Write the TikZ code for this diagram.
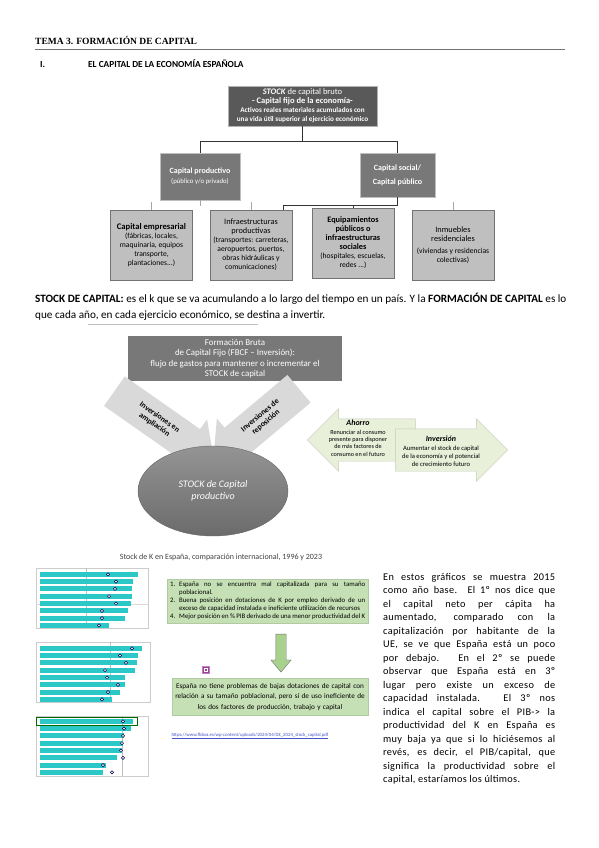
\documentclass[tikz,border=0pt]{standalone}
\usepackage{fontspec}
\setmainfont{Carlito}
\newfontfamily\titlefont{Liberation Serif}
\usepackage{tikz}
\usetikzlibrary{shapes.geometric,shapes.arrows,positioning,calc}
\definecolor{boxdark}{RGB}{89,89,89}
\definecolor{boxmid}{RGB}{120,120,120}
\definecolor{boxlight}{RGB}{191,191,191}
\definecolor{arrowgray}{RGB}{217,217,217}
\definecolor{palegreen}{RGB}{232,240,218}
\definecolor{notegreen}{RGB}{197,224,180}
\definecolor{downgreen}{RGB}{169,209,142}
\definecolor{barteal}{RGB}{44,200,200}
\definecolor{linkblue}{RGB}{68,84,196}

\begin{document}
\begin{tikzpicture}[x=1pt,y=-1pt,
  dk/.style={draw=gray!60,fill=boxdark,text=white,align=center,inner sep=0pt},
  md/.style={draw=gray!50,fill=boxmid,text=white,align=center,inner sep=1pt,font=\fontsize{8}{10}\selectfont\bfseries},
  lt/.style={draw=black!55,fill=boxlight,align=center,inner sep=0pt,minimum width=82pt,minimum height=70pt,font=\fontsize{7.6}{9}\selectfont},
  conn/.style={draw=black!80,line width=0.8pt},
  stub/.style={draw=black!35,line width=0.6pt},
  grayarrow/.style={single arrow,fill=arrowgray,single arrow head extend=12pt,inner ysep=10pt,font=\fontsize{7.8}{9}\selectfont\bfseries,align=center},
  greenarrow/.style={single arrow,fill=palegreen,draw=palegreen!85!black,single arrow head extend=10pt,inner sep=0pt,inner ysep=21pt},
  note/.style={fill=notegreen,draw=notegreen!90!black,inner sep=3pt},
  barfill/.style={fill=barteal},
  bardot/.style={draw=black!70!blue,fill=white,line width=0.5pt}]
\useasboundingbox (0,0) rectangle (599,848);
\fill[white] (0,0) rectangle (599,848);
% encabezado
\node[anchor=base west,inner sep=0pt,font={\titlefont\fontsize{9.5}{12}\selectfont\bfseries}] (tema) at (35,45) {TEMA 3. FORMACIÓN DE CAPITAL};
\draw[black!55,line width=1pt] ($(tema.base west)+(0,5)$) -- ++(530,0);
\node[anchor=base west,inner sep=0pt,font=\fontsize{9.3}{11}\selectfont\bfseries] (num) at (40,68) {I.};
\node[anchor=base west,inner sep=0pt,font=\fontsize{9.3}{11}\selectfont\bfseries] (secc) at (88,68) {EL CAPITAL DE LA ECONOMÍA ESPAÑOLA};

% arbol del stock de capital
\node[dk,minimum width=149pt,minimum height=40pt,font=\fontsize{7.2}{9}\selectfont\bfseries] (bruto) at (302.5,106) {{\fontsize{8.5}{9}\selectfont\textit{STOCK} \mdseries de capital bruto}\\{\fontsize{8.5}{9}\selectfont - Capital fijo de la economía-}\\Activos reales materiales acumulados con\\una vida útil superior al ejercicio económico};
\node[md,minimum width=80pt,minimum height=47pt] (prod) at (200,176.5) {Capital productivo\\{\fontsize{6.8}{9}\selectfont\mdseries (público y/o privado)}};
\node[md,minimum width=75pt,minimum height=44pt,font=\fontsize{8}{14}\selectfont\bfseries] (soc) at (397.5,175) {Capital social/\\Capital público};
\draw[conn] (bruto.south) -- ++(0,15) coordinate (split);
\draw[conn] (split) -| (prod.north);
\draw[conn] (split) -| (soc.north);

\node[lt] (empres) at (151.5,245) {{\fontsize{8.6}{10}\selectfont\bfseries Capital empresarial}\\(fábricas, locales,\\maquinaria, equipos\\transporte,\\plantaciones...)};
\node[lt] (infra) at (251,245) {{\fontsize{8.3}{9}\selectfont Infraestructuras}\\{\fontsize{8.3}{9}\selectfont productivas}\\(transportes: carreteras,\\aeropuertos, puertos,\\obras hidráulicas y\\comunicaciones)};
\node[lt] (equip) at (353,243) {{\fontsize{8.3}{9}\selectfont\bfseries Equipamientos}\\{\fontsize{8.3}{9}\selectfont\bfseries públicos o}\\{\fontsize{8.3}{9}\selectfont\bfseries infraestructuras}\\{\fontsize{8.3}{9}\selectfont\bfseries sociales}\\(hospitales, escuelas,\\redes ...)};
\node[lt] (inmue) at (453,245) {{\fontsize{8.3}{9}\selectfont Inmuebles}\\{\fontsize{8.3}{9}\selectfont residenciales}\\[3pt](viviendas y residencias\\colectivas)};

\draw[stub] (prod.south) -- ++(0,6) coordinate (prodend);
\draw[conn] (soc.south) -- ++(0,8) coordinate (socsplit) -| ([xshift=-9pt]infra.north east);
\draw[conn] (socsplit -| equip.north) -- (equip.north);
\draw[stub] ($(empres.north)+(0,-8)$) coordinate (empresend) -- (empres.north);
\draw[stub] ($(infra.north)+(0,-8)$) coordinate (infraend) -- (infra.north);
\draw[stub] ($(inmue.north)+(0,-8)$) coordinate (inmueend) -- (inmue.north);

% definicion
\node[anchor=north west,inner sep=0pt,align=left,font=\fontsize{11.2}{16}\selectfont] (defstock) at (35,293) {\textbf{STOCK DE CAPITAL:} es el k que se va acumulando a lo largo del tiempo en un país. Y la \textbf{FORMACIÓN DE CAPITAL} es lo\\que cada año, en cada ejercicio económico, se destina a invertir.};
\draw[black!25,line width=0.6pt] (88,324) -- (258,324);

% formacion bruta de capital fijo
\node[md,draw=none,minimum width=214pt,minimum height=45pt,font=\fontsize{8.9}{10.4}\selectfont] (fbcf) at (235,358.5) {Formación Bruta\\de Capital Fijo (FBCF – Inversión):\\flujo de gastos para mantener o incrementar el\\STOCK de capital};
\node[grayarrow,minimum height=122pt,rotate=-35] (ampl) at (157,421) {Inversiones en\\ampliación};
\node[grayarrow,minimum height=112pt,rotate=40,shape border rotate=180] (repos) at (263,419) {Inversiones de\\reposición};
\node[ellipse,draw=black!60,top color=black!42,bottom color=black!58,minimum width=150pt,minimum height=90pt,text=white,font=\fontsize{10}{12}\selectfont\itshape,align=center] (stockprod) at (213,491) {STOCK de Capital\\productivo};

% ahorro e inversion
\node[greenarrow,minimum height=108pt,shape border rotate=180] (ahorro) at (372,440) {};
\node[greenarrow,minimum height=112pt] (inver) at (441,450) {};
\node[align=center,inner sep=0pt,font=\fontsize{6.2}{7.2}\selectfont] (ahorrotxt) at (358,438) {{\fontsize{8}{9}\selectfont\bfseries\itshape Ahorro}\\[2pt]Renunciar al consumo\\presente para disponer\\de más factores de\\consumo en el futuro};
\node[align=center,inner sep=0pt,font=\fontsize{6.6}{7.6}\selectfont] (invertxt) at (441,451) {{\fontsize{8}{9}\selectfont\bfseries\itshape Inversión}\\[2pt]Aumentar el stock de capital\\de la economía y el potencial\\de crecimiento futuro};

% graficos del stock de K
\node[anchor=base,font=\fontsize{8}{9}\selectfont,text=black!75] (captk) at (221,559) {Stock de K en España, comparación internacional, 1996 y 2023};
\draw[black!20] (36,568) rectangle (148,628);
\draw[black!25] (86,568) -- (86,628);
\draw[black!15] (36,604) -- (148,604);
\foreach \e/\m [count=\i] in {138/108,133/116,132/115,132/109,131/116,128/102,125/102,109/99}
  {\fill[barfill] (40,{564.5+7.3*\i}) rectangle (\e,{569.5+7.3*\i});
   \draw[bardot] (\m,{567+7.3*\i}) circle (1.6pt);}
\draw[black!20] (36,642) rectangle (150,702);
\draw[black!25] (110,642) -- (110,702);
\foreach \e/\m [count=\i] in {142/132,138/120,137/126,135/105,125/107,125/118,120/108,112/102}
  {\fill[barfill] (40,{638.5+7.3*\i}) rectangle (\e,{643.5+7.3*\i});
   \draw[bardot] (\m,{641+7.3*\i}) circle (1.6pt);}
\draw[black!20] (36,716) rectangle (148,776);
\draw[black!25] (122,716) -- (122,776);
\draw[black!60!green,line width=0.6pt] (36,717) rectangle (137,725);
\foreach \e/\m [count=\i] in {133/123,131/124,124/123,123/122,122/121,117/123,106/103,103/112}
  {\fill[barfill] (40,{711.5+7.3*\i}) rectangle (\e,{716.5+7.3*\i});
   \draw[bardot] (\m,{714+7.3*\i}) circle (1.6pt);}

% conclusiones
\node[note,anchor=north west,text width=195pt,align=justify,font=\fontsize{6.8}{8}\selectfont] (conclus) at (167,579) {%
{\hangindent=9pt\hangafter=1\noindent\makebox[9pt][l]{1.}España no se encuentra mal capitalizada para su tamaño\linebreak poblacional.\par}
{\hangindent=9pt\hangafter=1\noindent\makebox[9pt][l]{2.}Buena posición en dotaciones de K por empleo derivado de un\linebreak exceso de capacidad instalada e ineficiente utilización de recursos\par}
{\hangindent=9pt\hangafter=1\noindent\makebox[9pt][l]{4.}Mejor posición en \% PIB derivado de una menor productividad del K\par}};
\node[single arrow,rotate=-90,fill=downgreen,draw=black!55,minimum height=38pt,inner sep=0pt,inner ysep=5pt,single arrow head extend=5pt,single arrow tip angle=80] (flecha) at (281,650) {};
\node[fill=violet!75,draw=violet!50,minimum size=7pt,inner sep=0pt] (nota) at (206,670) {};
\node[draw=white,line width=0.5pt,minimum size=3pt,inner sep=0pt] (notain) at (nota) {};
\node[note,text width=190pt,align=center,inner ysep=5pt,font=\fontsize{7.2}{10.5}\selectfont] (resumen) at (270,697) {España no tiene problemas de bajas dotaciones de capital con\\relación a su tamaño poblacional, pero sí de uso ineficiente de\\los dos factores de producción, trabajo y capital};
\node[font=\fontsize{4.8}{5}\selectfont,text=linkblue] (enlace) at (250,736) {\underline{https://www.fbbva.es/wp-content/uploads/2024/04/DE\_2024\_stock\_capital.pdf}};

% comentario
\node[anchor=north west,text width=172pt,align=justify,inner sep=0pt,font=\fontsize{10.3}{13.5}\selectfont\addfontfeature{LetterSpace=3}] (comenta) at (383,573) {En estos gráficos se muestra 2015\linebreak como año base. El 1º nos dice que\linebreak el capital neto per cápita ha\linebreak aumentado, comparado con la\linebreak capitalización por habitante de la\linebreak UE, se ve que España está un poco\linebreak por debajo. En el 2º se puede\linebreak observar que España está en 3º\linebreak lugar pero existe un exceso de\linebreak capacidad instalada. El 3º nos\linebreak indica el capital sobre el PIB-> la\linebreak productividad del K en España es\linebreak muy baja ya que si lo hiciésemos al\linebreak revés, es decir, el PIB/capital, que\linebreak significa la productividad sobre el\linebreak capital, estaríamos los últimos.};
\end{tikzpicture}
\end{document}
